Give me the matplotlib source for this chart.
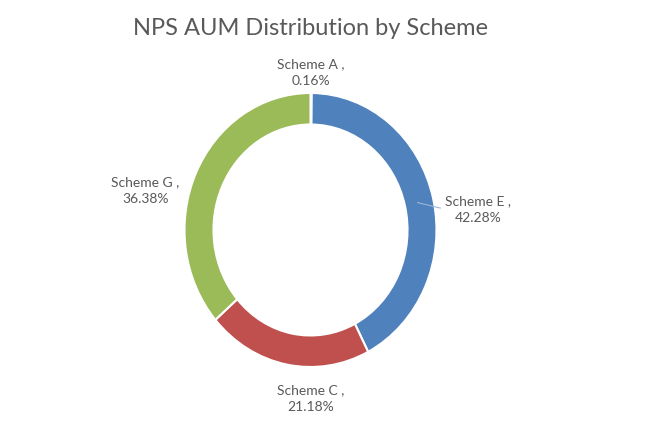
import matplotlib.pyplot as plt

# data
schemes = ['Scheme A', 'Scheme E', 'Scheme C', 'Scheme G']
shares = [0.16, 42.28, 21.18, 36.38]
colors = ['#8064A2', '#4F81BD', '#C0504D', '#9BBB59']

# label anchor points (axes data units, ring radius = 1)
label_pos = {
    'Scheme A': (0.0, 1.15),
    'Scheme E': (1.33, 0.15),
    'Scheme G': (-1.31, 0.29),
    'Scheme C': (0.0, -1.23),
}

plt.rcParams['font.family'] = ['Lato', 'DejaVu Sans']
text_color = '#595959'

fig = plt.figure(figsize=(6.6, 4.4), dpi=100)
ax = fig.add_axes([0, 0, 1, 1])

ax.pie(shares, colors=colors, startangle=90, counterclock=False,
       radius=1.0, wedgeprops=dict(width=0.23, edgecolor='white', linewidth=1.5))

for name, val in zip(schemes, shares):
    x, y = label_pos[name]
    ax.text(x, y, f'{name} ,\n{val:.2f}%', ha='center', va='center',
            fontsize=10, color=text_color, linespacing=1.5)

# leader line for Scheme E
ax.plot([0.85, 1.03], [0.20, 0.16], color='#9DB7DA', linewidth=0.8)

# the reference ring is slightly taller than wide
ax.set_aspect('auto')
ax.set_xlim(-310.5 / 126, 349.5 / 126)
ax.set_ylim(-210 / 137, 230 / 137)
ax.axis('off')

fig.text(0.47, 0.935, 'NPS AUM Distribution by Scheme', ha='center', va='center',
         fontsize=17, color=text_color)

fig.savefig('out.png', dpi=100, facecolor='white')
